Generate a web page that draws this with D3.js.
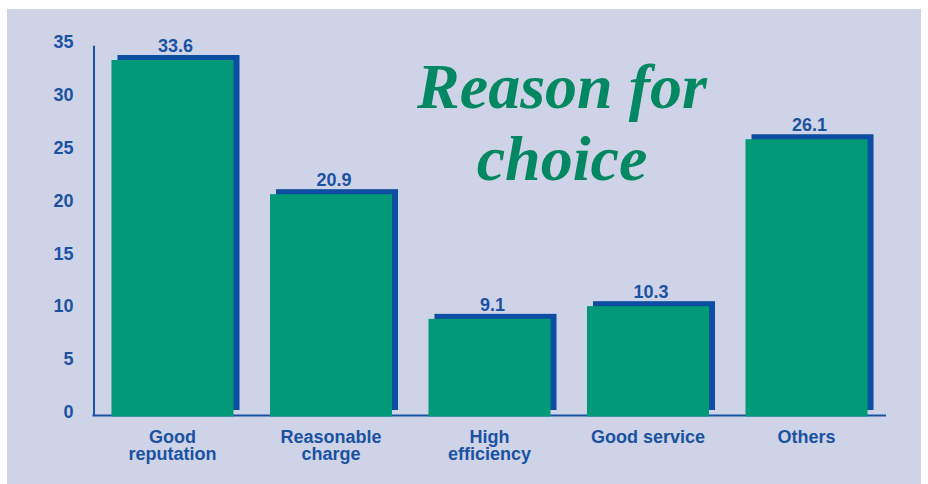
<!DOCTYPE html>
<html>
<head>
<meta charset="utf-8">
<script src="https://cdn.jsdelivr.net/npm/d3@7"></script>
<style>
  html, body { margin: 0; padding: 0; background: #ffffff; }
  svg { display: block; }
</style>
</head>
<body>
<svg id="chart" width="928" height="484"></svg>
<script>
// Survey: reason for choice (percent)
const categories = [
  ["Good", "reputation"],
  ["Reasonable", "charge"],
  ["High", "efficiency"],
  ["Good service"],
  ["Others"]
];
const values = [33.6, 20.9, 9.1, 10.3, 26.1];
const tickValues = [0, 5, 10, 15, 20, 25, 30, 35];
const titleLines = ["Reason for", "choice"];

const W = 928, H = 484;
const colors = {
  panel: "#cfd3e8",
  bar: "#009a78",
  shadow: "#0b4ea2",
  text: "#1a52a2",
  axis: "#1a52a2",
  title: "#008862"
};
const shadowDx = 6, shadowDy = 5;

const svg = d3.select("#chart");

// background panel
svg.append("rect")
  .attr("x", 7).attr("y", 9)
  .attr("width", 914).attr("height", H - 9)
  .attr("fill", colors.panel);

const keys = categories.map((c, i) => i);
const x = d3.scaleBand()
  .domain(keys)
  .range([93, 886])
  .paddingInner(0.23)
  .paddingOuter(0.1165);

const y = d3.scaleLinear()
  .domain([0, 35])
  .range([415, 45.2]);

// y axis (labels + vertical line)
const yAxis = d3.axisLeft(y)
  .tickValues(tickValues)
  .tickSize(0)
  .tickPadding(20);

const gy = svg.append("g")
  .attr("transform", "translate(93.5,0)")
  .call(yAxis);
gy.select(".domain")
  .attr("stroke", colors.axis)
  .attr("stroke-width", 2);
gy.selectAll("text")
  .attr("dy", "0.14em")
  .attr("fill", colors.text)
  .style("font-family", "'Liberation Sans', Arial, sans-serif")
  .style("font-weight", "bold")
  .style("font-size", "18px");

// x baseline
svg.append("line")
  .attr("x1", 92.5).attr("x2", 886)
  .attr("y1", y(0) + 0.5).attr("y2", y(0) + 0.5)
  .attr("stroke", colors.axis)
  .attr("stroke-width", 2);

// bar shadows
svg.append("g").selectAll("rect")
  .data(values)
  .join("rect")
  .attr("x", (d, i) => x(i) + shadowDx)
  .attr("y", d => y(d) - shadowDy)
  .attr("width", x.bandwidth())
  .attr("height", d => y(0) - y(d))
  .attr("fill", colors.shadow);

// bars
svg.append("g").selectAll("rect")
  .data(values)
  .join("rect")
  .attr("x", (d, i) => x(i))
  .attr("y", d => y(d))
  .attr("width", x.bandwidth())
  .attr("height", d => y(0) - y(d) + 1.5)
  .attr("fill", colors.bar);

// value labels
svg.append("g").selectAll("text")
  .data(values)
  .join("text")
  .attr("x", (d, i) => x(i) + (x.bandwidth() + shadowDx) / 2)
  .attr("y", d => y(d) - shadowDy - 3)
  .attr("text-anchor", "middle")
  .attr("fill", colors.text)
  .style("font-family", "'Liberation Sans', Arial, sans-serif")
  .style("font-weight", "bold")
  .style("font-size", "18px")
  .text(d => d.toFixed(1));

// category labels
const cat = svg.append("g").selectAll("text")
  .data(categories)
  .join("text")
  .attr("x", (d, i) => x(i) + x.bandwidth() / 2)
  .attr("y", 442.5)
  .attr("text-anchor", "middle")
  .attr("fill", colors.text)
  .style("font-family", "'Liberation Sans', Arial, sans-serif")
  .style("font-weight", "bold")
  .style("font-size", "18px");
cat.selectAll("tspan")
  .data((d, i) => d.map(t => ({ t, i })))
  .join("tspan")
  .attr("x", d => x(d.i) + x.bandwidth() / 2)
  .attr("dy", (d, j) => j === 0 ? 0 : 17.5)
  .text(d => d.t);

// title
svg.append("text")
  .attr("text-anchor", "middle")
  .attr("fill", colors.title)
  .style("font-family", "'Liberation Serif', 'Times New Roman', serif")
  .style("font-weight", "bold")
  .style("font-style", "italic")
  .style("font-size", "64px")
  .selectAll("tspan")
  .data(titleLines)
  .join("tspan")
  .attr("x", 562)
  .attr("y", (d, i) => 108 + i * 72)
  .text(d => d);
</script>
</body>
</html>
